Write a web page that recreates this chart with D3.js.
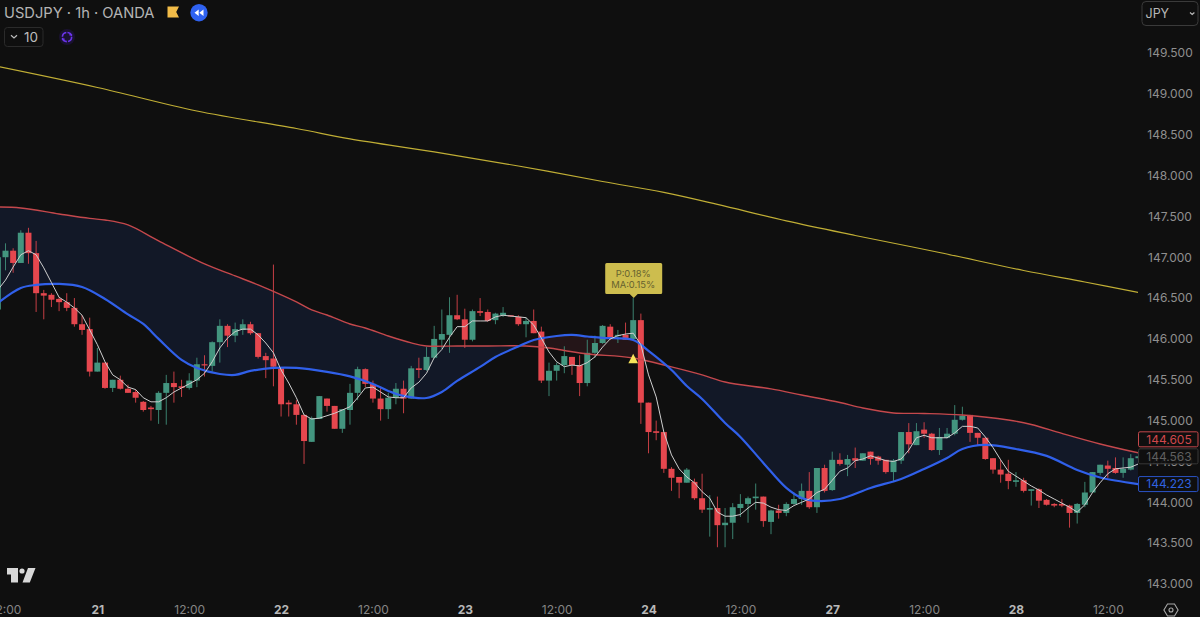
<!DOCTYPE html>
<html><head><meta charset="utf-8">
<style>
html,body{margin:0;padding:0;background:#0f0f0f;overflow:hidden}
svg{display:block}
text{font-family:Inter,"Noto Sans",sans-serif}
.axis path,.axis line{display:none}
</style>
<script src="https://cdn.jsdelivr.net/npm/d3@7"></script>
</head><body><svg id="c" width="1200" height="617"></svg>
<script>
const title = "USDJPY · 1h · OANDA";
const currency = "JPY";
const intervalCount = "10";
const firstBar = -1;
const opens = [
146.36,147.00,147.08,146.93,147.30,147.05,146.56,146.54,146.49,146.45,
146.38,146.18,146.12,145.60,145.71,145.40,145.50,145.39,145.35,145.23,
145.16,145.13,145.34,145.46,145.42,145.40,145.49,145.69,145.67,145.96,
146.16,146.04,146.11,146.18,146.07,145.79,145.76,145.64,145.22,145.20,
145.07,144.74,145.02,145.27,145.18,144.90,145.13,145.34,145.63,145.45,
145.27,145.14,145.28,145.39,145.27,145.64,145.62,145.77,145.99,146.05,
146.29,146.24,145.99,146.34,146.33,146.23,146.29,146.29,146.27,146.18,
146.22,146.09,145.49,145.61,145.68,145.78,145.68,145.46,145.83,145.95,
146.15,146.04,146.05,146.00,146.23,145.22,144.87,144.86,144.41,144.31,
144.24,144.25,144.05,143.91,143.93,143.72,143.75,143.93,143.98,144.05,
144.07,143.76,143.90,143.87,143.98,144.04,144.14,143.94,144.42,144.15,
144.52,144.46,144.54,144.51,144.62,144.56,144.52,144.37,144.51,144.86,
144.70,144.89,144.84,144.64,144.79,144.84,145.01,145.07,144.85,144.79,
144.54,144.40,144.35,144.25,144.27,144.14,144.16,144.03,143.98,143.98,
143.96,143.87,143.97,144.12,144.36,144.45,144.42,144.36,144.40,144.54];
const highs = [
147.09,147.17,147.11,147.33,147.36,147.20,146.60,146.56,146.51,146.56,
146.50,146.29,146.26,145.89,145.71,145.50,145.55,145.44,145.38,145.24,
145.18,145.36,145.56,145.60,145.50,145.58,145.77,145.80,145.97,146.24,
146.18,146.20,146.24,146.21,146.07,145.83,146.91,145.64,145.25,145.25,
145.07,145.05,145.30,145.27,145.18,145.14,145.45,145.66,145.64,145.49,
145.40,145.34,145.46,145.49,145.67,145.77,145.90,146.16,146.36,146.51,
146.54,146.37,146.36,146.50,146.36,146.32,146.39,146.29,146.29,146.26,
146.36,146.15,145.71,145.71,145.91,145.78,145.80,145.99,146.04,146.17,
146.18,146.11,146.20,146.50,146.31,145.22,145.00,144.86,144.43,144.31,
144.42,144.29,144.35,144.09,144.07,143.93,143.99,144.10,144.07,144.23,
144.07,143.91,143.97,144.00,144.12,144.23,144.37,144.42,144.46,144.62,
144.60,144.58,144.67,144.60,144.62,144.57,144.52,144.53,144.86,144.97,
144.97,144.98,144.85,144.91,144.91,145.19,145.17,145.07,144.85,144.79,
144.54,144.52,144.52,144.37,144.30,144.16,144.17,144.04,143.99,144.04,
143.97,143.99,144.25,144.37,144.46,144.51,144.55,144.55,144.59,144.57];
const lows = [
146.33,146.84,146.81,146.93,146.92,146.33,146.24,146.39,146.34,146.34,
146.15,146.05,145.54,145.60,145.39,145.35,145.38,145.34,145.22,145.11,
145.00,144.96,144.95,145.22,145.29,145.38,145.41,145.54,145.60,145.71,
145.90,145.96,146.05,146.05,145.76,145.52,145.42,145.05,145.05,144.95,
144.47,144.74,145.02,145.11,144.90,144.85,144.95,145.25,145.41,145.22,
145.00,145.02,145.20,145.09,145.27,145.52,145.61,145.76,145.88,145.83,
146.23,145.89,145.97,146.28,146.21,146.18,146.27,146.27,146.16,146.02,
146.07,145.46,145.30,145.49,145.58,145.56,145.30,145.42,145.77,145.94,
145.99,145.95,145.99,145.99,144.96,144.60,144.76,144.36,144.14,144.05,
144.24,144.03,143.87,143.58,143.45,143.45,143.55,143.82,143.75,143.91,
143.70,143.61,143.80,143.83,143.97,143.97,143.92,143.87,144.12,144.14,
144.45,144.32,144.42,144.51,144.46,144.46,144.35,144.25,144.47,144.60,
144.70,144.79,144.63,144.58,144.78,144.82,145.00,144.74,144.70,144.52,
144.35,144.24,144.16,144.19,144.12,143.96,143.93,143.96,143.94,143.94,
143.69,143.74,143.94,144.12,144.33,144.30,144.35,144.30,144.39,144.52];
const closes = [
147.00,147.08,146.93,147.30,147.05,146.56,146.53,146.48,146.45,146.38,
146.18,146.11,145.60,145.71,145.40,145.50,145.39,145.34,145.28,145.13,
145.14,145.34,145.46,145.41,145.40,145.49,145.69,145.68,145.96,146.16,
146.04,146.12,146.18,146.07,145.78,145.74,145.66,145.20,145.20,145.07,
144.75,145.03,145.30,145.18,144.90,145.14,145.34,145.63,145.45,145.27,
145.14,145.28,145.39,145.27,145.64,145.62,145.78,146.00,146.06,146.29,
146.24,145.99,146.34,146.32,146.22,146.31,146.32,146.28,146.18,146.22,
146.07,145.49,145.61,145.68,145.79,145.68,145.46,145.83,145.95,146.16,
146.01,146.05,145.99,146.23,145.22,144.86,144.85,144.41,144.30,144.24,
144.40,144.05,143.91,143.93,143.72,143.75,143.94,143.98,144.05,144.07,
143.77,143.90,143.87,143.98,144.04,144.14,143.94,144.42,144.14,144.52,
144.47,144.53,144.51,144.60,144.53,144.51,144.37,144.51,144.86,144.71,
144.87,144.84,144.64,144.80,144.84,145.01,145.06,144.85,144.79,144.53,
144.40,144.34,144.26,144.27,144.14,144.16,144.02,143.97,143.96,143.96,
143.87,143.98,144.12,144.37,144.46,144.41,144.36,144.41,144.54,144.563];
const fastMA = [
146.60,146.72,146.88,147.03,147.08,147.03,146.87,146.69,146.51,146.45,
146.38,146.29,146.11,145.93,145.72,145.56,145.50,145.41,145.38,145.28,
145.23,145.23,145.28,145.35,145.40,145.45,145.50,145.58,145.72,145.89,
146.01,146.09,146.12,146.12,146.05,145.95,145.83,145.62,145.46,145.28,
145.07,145.02,145.03,145.06,145.09,145.13,145.17,145.28,145.40,145.41,
145.35,145.29,145.28,145.28,145.40,145.47,145.58,145.77,145.87,146.02,
146.15,146.15,146.22,146.22,146.22,146.27,146.29,146.28,146.27,146.26,
146.17,146.01,145.84,145.72,145.66,145.68,145.67,145.71,145.78,145.90,
146.00,146.04,146.06,146.07,145.93,145.56,145.29,144.86,144.58,144.41,
144.31,144.24,144.13,144.05,143.88,143.83,143.83,143.85,143.93,144.00,
143.99,143.94,143.91,143.90,143.96,144.00,144.04,144.12,144.16,144.27,
144.38,144.42,144.51,144.53,144.57,144.54,144.51,144.50,144.53,144.64,
144.79,144.82,144.79,144.79,144.79,144.85,144.93,144.93,144.91,144.80,
144.67,144.52,144.38,144.32,144.26,144.20,144.15,144.09,144.04,143.99,
143.94,143.88,143.97,144.12,144.24,144.35,144.41,144.42,144.43,144.47];
const redBars = [-1,2,7,11,13,16,20,26,30,33,38,40,42,45,47,50,53,55,59,63,68,71,73,76,82,87,91,94,100,104,109,112,116,120,125,131,134,138,143,148];
const redValues = [147.615,147.603,147.53,147.475,147.456,147.395,147.199,146.918,146.771,146.661,146.453,146.355,146.293,146.183,146.134,146.036,145.951,145.914,145.914,145.914,145.914,145.889,145.859,145.816,145.767,145.657,145.559,145.473,145.388,145.314,145.222,145.155,145.094,145.088,145.069,145.008,144.953,144.843,144.714,144.605];
const blueBars = [-1,2,4,7,10,13,16,18,20,23,25,28,30,32,35,38,42,45,48,50,52,55,57,59,62,64,67,69,72,74,76,78,82,84,87,89,91,94,96,99,102,104,106,109,113,117,120,123,125,128,132,136,140,143,148];
const blueValues = [146.44,146.624,146.661,146.673,146.636,146.489,146.30,146.183,146.00,145.743,145.645,145.571,145.559,145.608,145.645,145.645,145.596,145.541,145.449,145.363,145.302,145.277,145.351,145.486,145.657,145.779,145.908,145.987,146.036,146.049,146.03,146.012,145.987,145.853,145.62,145.424,145.265,144.971,144.80,144.482,144.176,144.053,144.017,144.041,144.176,144.286,144.408,144.543,144.653,144.702,144.653,144.568,144.396,144.304,144.223];
const yellowBars = [-1,12,25,38,45,56,67,78,86,93,102,111,122,133,141,148];
const yellowValues = [149.335,149.078,148.79,148.576,148.448,148.289,148.117,147.927,147.793,147.646,147.444,147.266,147.058,146.838,146.697,146.569];
const timeBars = [0,12,24,36,48,60,72,84,96,108,120,132,144];
const timeLabels = ["12:00","21","12:00","22","12:00","23","12:00","24","12:00","27","12:00","28","12:00"];
const priceTicks = [143,143.5,144,144.5,145,145.5,146,146.5,147,147.5,148,148.5,149,149.5];
const signalBar = 82;
const signalPrice = 145.82;
const signalLines = ["P:0.18%","MA:0.15%"];

const svg = d3.select("#c");
const plotW = 1138, plotH = 596;
const x = d3.scaleLinear().domain([0,148]).range([5.5,5.5+148*7.655]);
const y = d3.scaleLinear().domain([149.5,143]).range([53,584]);
const red="#e5474e", green="#43957f";

svg.append("rect").attr("width",1200).attr("height",617).attr("fill","#0f0f0f");
const defs = svg.append("defs");
const pts=(b,v)=>b.map((k,i)=>[x(k),y(v[i])]);
const redPts=pts(redBars,redValues), bluePts=pts(blueBars,blueValues);
const line=d3.line().curve(d3.curveCatmullRom.alpha(0.5));
const redD=line(redPts), blueRevD=line(bluePts.slice().reverse());
const bandD=redD+"L"+blueRevD.slice(1)+"Z";
defs.append("clipPath").attr("id","plot").append("rect").attr("width",plotW).attr("height",plotH);
defs.append("clipPath").attr("id","belowRed").append("path").attr("d",redD+`L${x(148)},${plotH}L${x(firstBar)},${plotH}Z`);
defs.append("clipPath").attr("id","aboveRed").append("path").attr("d",redD+`L${x(148)},0L${x(firstBar)},0Z`);

const g=svg.append("g").attr("clip-path","url(#plot)");
g.append("g").attr("clip-path","url(#belowRed)").append("path").attr("d",bandD).attr("fill","#121827");
g.append("g").attr("clip-path","url(#aboveRed)").append("path").attr("d",bandD).attr("fill","#241518");

const bars=d3.range(opens.length).map(i=>({k:i+firstBar,o:opens[i],h:highs[i],l:lows[i],c:closes[i]}));
const cg=g.append("g").selectAll("g").data(bars).join("g");
cg.append("line").attr("x1",d=>x(d.k)).attr("x2",d=>x(d.k)).attr("y1",d=>y(d.h)).attr("y2",d=>y(d.l))
  .attr("stroke",d=>d.c>=d.o?green:red).attr("stroke-width",1).attr("stroke-opacity",.85);
cg.append("rect").attr("x",d=>x(d.k)-3).attr("width",6)
  .attr("y",d=>y(Math.max(d.o,d.c))).attr("height",d=>Math.max(1.2,Math.abs(y(d.o)-y(d.c))))
  .attr("fill",d=>d.c>=d.o?green:red);

g.append("path").attr("d",line(pts(yellowBars,yellowValues))).attr("fill","none").attr("stroke","#c0ae35").attr("stroke-width",1.2);
g.append("path").attr("d",redD).attr("fill","none").attr("stroke","#c4484c").attr("stroke-width",1.4);
g.append("path").attr("d",line(bluePts)).attr("fill","none").attr("stroke","#3060ea").attr("stroke-width",2.2);
g.append("path").attr("d",d3.line().x((d,i)=>x(i+firstBar)).y(d=>y(d))(fastMA)).attr("fill","none").attr("stroke","#cfcfcf").attr("stroke-width",1);

// signal triangle and tooltip
const sx=x(signalBar), sy=y(signalPrice);
svg.append("path").attr("d",`M${sx},${sy}l4.8,9.5h-9.6z`).attr("fill","#f6e35a");
const tipY=y(highs[signalBar-firstBar]);
svg.append("path").attr("d",`M${sx-26.5},${tipY-35}h54a1.5,1.5 0 0 1 1.5,1.5v28a1.5,1.5 0 0 1 -1.5,1.5h-23l-4,4l-4,-4h-23a1.5,1.5 0 0 1 -1.5,-1.5v-28a1.5,1.5 0 0 1 1.5,-1.5z`).attr("fill","#cdbd4e");
signalLines.forEach((t,i)=>svg.append("text").attr("x",sx).attr("y",tipY-21.5+i*11.8).attr("text-anchor","middle").attr("font-size",9.4).attr("fill","#66622f").text(t));

// axes
const ax=svg.append("g").attr("class","axis").attr("transform","translate(1170,0)")
  .call(d3.axisRight(y).tickValues(priceTicks).tickFormat(d3.format(".3f")).tickSize(0).tickPadding(0));
ax.selectAll("text").attr("x",0).attr("text-anchor","middle").attr("font-size",12).attr("fill","#8f8f8f").style("font-family","Inter");
const bx=svg.append("g").attr("class","axis").attr("transform","translate(0,605)")
  .call(d3.axisBottom(x).tickValues(timeBars).tickFormat((d,i)=>timeLabels[i]).tickSize(0).tickPadding(0));
bx.selectAll("text").attr("font-size",12).style("font-family","Inter")
  .attr("fill",(d,i)=>timeLabels[i].includes(":")?"#858585":"#b8b8b8")
  .attr("font-weight",(d,i)=>timeLabels[i].includes(":")?400:700);

// price labels
function priceLabel(v,cy,stroke,fill,bg){
  const l=svg.append("g");
  l.append("rect").attr("x",1138.5).attr("y",cy-7.5).attr("width",59.5).attr("height",15).attr("rx",1.5).attr("fill",bg).attr("stroke",stroke);
  l.append("text").attr("x",1169).attr("y",cy+4.3).attr("text-anchor","middle").attr("font-size",12).attr("fill",fill).text(v.toFixed(3));
}
const lastC=closes[closes.length-1];
priceLabel(redValues[redValues.length-1],y(lastC)-17,"#c4484c","#cf474b","#0f0f0f");
priceLabel(lastC,y(lastC),"#383838","#5f5f5f","rgba(15,15,15,.92)");
priceLabel(blueValues[blueValues.length-1],y(blueValues[blueValues.length-1]),"#2b54c8","#2f62e0","#0f0f0f");

// header
svg.append("text").attr("x",4).attr("y",18.4).attr("font-size",14.7).attr("fill","#b4b4b4").text(title);
svg.append("path").attr("d","M167.5,6.5h11.5l-2.8,5.5l2.8,5.5h-11.5z").attr("fill","#f2bc48");
svg.append("circle").attr("cx",199).attr("cy",12.7).attr("r",8.7).attr("fill","#2f62f0");
svg.append("path").attr("d","M198.7,9.5v6.4l-4.2,-3.2zM203.5,9.5v6.4l-4.2,-3.2z").attr("fill","#fff");
svg.append("rect").attr("x",4.5).attr("y",27.5).attr("width",38.5).attr("height",19).attr("rx",3).attr("fill","none").attr("stroke","#2b2b2b");
svg.append("path").attr("d","M11,35.2l3,2.8l3,-2.8").attr("fill","none").attr("stroke","#bdbdbd").attr("stroke-width",1.2);
svg.append("text").attr("x",24).attr("y",41.8).attr("font-size",13.5).attr("fill","#bdbdbd").text(intervalCount);
svg.append("circle").attr("cx",67).attr("cy",37).attr("r",8).attr("fill","#1a1230");
svg.append("circle").attr("cx",67).attr("cy",37).attr("r",4.6).attr("fill","none").attr("stroke","#6a34ea").attr("stroke-width",1.6).attr("stroke-dasharray","6 1.2");
svg.append("path").attr("d","M70,32.5l2.6,2.6l-3.4,.4zM64,41.5l-2.6,-2.6l3.4,-.4z").attr("fill","#6a34ea");
svg.append("rect").attr("x",1142).attr("y",1.5).attr("width",56).attr("height",24).attr("rx",4).attr("fill","none").attr("stroke","#3a3a3a");
svg.append("text").attr("x",1145.5).attr("y",17.5).attr("font-size",12.5).attr("fill","#b8b8b8").text(currency);
svg.append("path").attr("d","M1190,12.5l2.2,2l2.2,-2").attr("fill","none").attr("stroke","#b8b8b8").attr("stroke-width",1.2);

// watermark logo
svg.append("path").attr("d","M7,568h11v14.5h-7v-8h-4zM28,568h7.5l-5.7,14.5h-7.3z").attr("fill","#d8d8d8");
svg.append("circle").attr("cx",22).attr("cy",571).attr("r",2.6).attr("fill","#d8d8d8");
// settings icon
svg.append("path").attr("d","M1167.5,604h7l3.6,6l-3.6,6h-7l-3.6,-6z").attr("fill","none").attr("stroke","#a8a8a8").attr("stroke-width",1.1);
svg.append("circle").attr("cx",1171).attr("cy",610).attr("r",2).attr("fill","none").attr("stroke","#a8a8a8").attr("stroke-width",1.1);
</script></body></html>
